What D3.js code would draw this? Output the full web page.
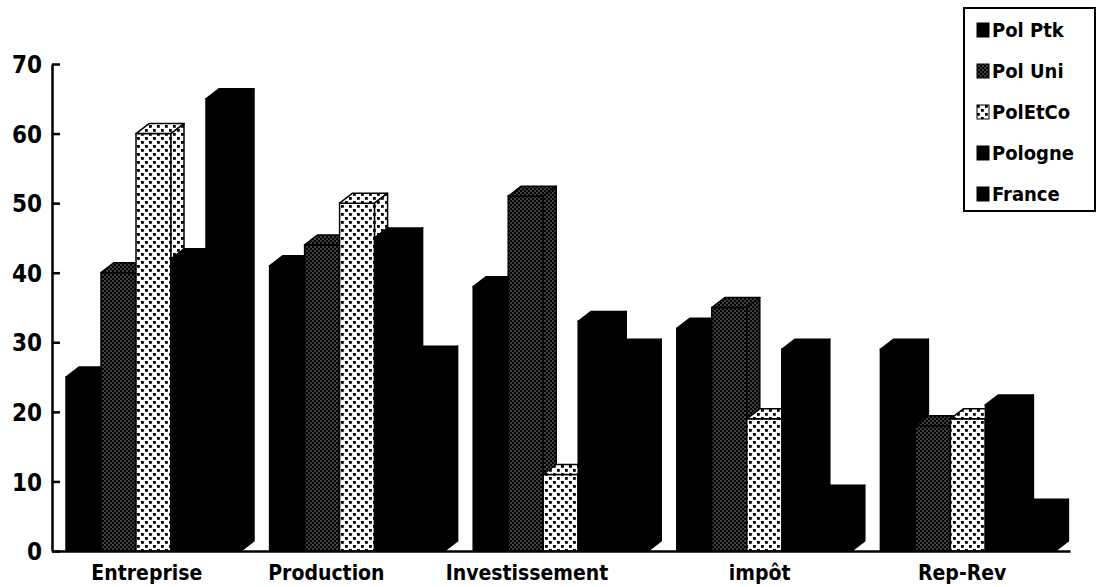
<!DOCTYPE html>
<html>
<head>
<meta charset="utf-8">
<script src="https://cdn.jsdelivr.net/npm/d3@7"></script>
<style>
  body { margin: 0; background: #fff; }
  text { font-family: "DejaVu Sans Condensed", "DejaVu Sans", sans-serif; font-weight: bold; fill: #000; }
</style>
</head>
<body>
<div id="chart"></div>
<script>
// data
let categories = ['Entreprise', 'Production', 'Investissement', 'impôt', 'Rep-Rev'];
let seriesNames = ['Pol Ptk', 'Pol Uni', 'PolEtCo', 'Pologne', 'France'];
let polPtk  = [25, 41, 38, 32, 29];
let polUni  = [40, 44, 51, 35, 18];
let polEtCo = [60, 50, 11, 19, 19];
let pologne = [42, 45, 33, 29, 21];
let france  = [65, 28, 29, 8, 6];
let yTicks = [0, 10, 20, 30, 40, 50, 60, 70];

let seriesValues = [polPtk, polUni, polEtCo, pologne, france];
let seriesFill = ['#000', 'url(#dense)', 'url(#sparse)', '#000', '#000'];

// layout
let svgWidth = 1098;
let svgHeight = 587;
let axisX = 52;
let baseY = 551;
let barW = 35;   // front face width
let depthX = 13; // 3d depth
let depthY = 10;
let groupOffset = 14;
let labelShift = [-7, -31, -34, -5, -6];

let svg = d3.select('#chart')
  .append('svg')
  .attr('width', svgWidth)
  .attr('height', svgHeight);

// fill patterns
let defs = svg.append('defs');
let dense = defs.append('pattern')
  .attr('id', 'dense')
  .attr('patternUnits', 'userSpaceOnUse')
  .attr('width', 4).attr('height', 4);
dense.append('rect').attr('width', 4).attr('height', 4).attr('fill', '#000');
dense.append('rect').attr('x', 0.5).attr('y', 0.5).attr('width', 1).attr('height', 1).attr('fill', '#fff');
dense.append('rect').attr('x', 2.5).attr('y', 2.5).attr('width', 1).attr('height', 1).attr('fill', '#fff');

let sparse = defs.append('pattern')
  .attr('id', 'sparse')
  .attr('patternUnits', 'userSpaceOnUse')
  .attr('width', 8).attr('height', 8);
sparse.append('rect').attr('width', 8).attr('height', 8).attr('fill', '#fff');
sparse.append('rect').attr('x', 1).attr('y', 1).attr('width', 2.8).attr('height', 2.8).attr('fill', '#000');
sparse.append('rect').attr('x', 5).attr('y', 5).attr('width', 2.8).attr('height', 2.8).attr('fill', '#000');

// scales
let x = d3.scaleBand()
  .domain(categories)
  .range([axisX, 1070])
  .padding(0);

let y = d3.scaleLinear()
  .domain([0, 70])
  .range([baseY, 64]);

// bars, series in order so later fronts cover earlier sides
let barsGroup = svg.append('g');
categories.forEach((cat, ci) => {
  let g = barsGroup.append('g');
  seriesValues.forEach((vals, si) => {
    let x0 = x(cat) + groupOffset + si * barW;
    let yt = y(vals[ci]);
    let fill = seriesFill[si];
    g.append('rect')
      .attr('x', x0).attr('y', yt)
      .attr('width', barW).attr('height', baseY - yt)
      .attr('fill', fill).attr('stroke', '#000').attr('stroke-width', 1.5);
    // top face
    g.append('path')
      .attr('d', `M${x0},${yt} L${x0 + depthX},${yt - depthY} L${x0 + barW + depthX},${yt - depthY} L${x0 + barW},${yt} Z`)
      .attr('fill', fill).attr('stroke', '#000').attr('stroke-width', 1.5)
      .attr('stroke-linejoin', 'round');
    // side face
    g.append('path')
      .attr('d', `M${x0 + barW},${yt} L${x0 + barW + depthX},${yt - depthY} L${x0 + barW + depthX},${baseY - depthY} L${x0 + barW},${baseY} Z`)
      .attr('fill', fill).attr('stroke', '#000').attr('stroke-width', 1.5)
      .attr('stroke-linejoin', 'round');
  });
});

// y axis
let leftAxis = d3.axisLeft(y)
  .tickValues(yTicks)
  .tickSizeInner(-8)
  .tickSizeOuter(0)
  .tickPadding(10);

let yAxis = svg.append('g')
  .attr('transform', `translate(${axisX},0)`)
  .call(leftAxis);
yAxis.select('.domain').attr('stroke', '#000').attr('stroke-width', 2.5);
yAxis.selectAll('.tick line').attr('stroke', '#000').attr('stroke-width', 2.5);
yAxis.selectAll('.tick text')
  .style('font-size', '24px')
  .attr('dy', '0.36em');

// x axis
let bottomAxis = d3.axisBottom(x)
  .tickSize(0)
  .tickSizeOuter(0);

let xAxis = svg.append('g')
  .attr('transform', `translate(0,${baseY})`)
  .call(bottomAxis);
xAxis.select('.domain').attr('stroke', '#000').attr('stroke-width', 2.5);
xAxis.selectAll('.tick text')
  .style('font-size', '21px')
  .attr('y', 29)
  .attr('dy', 0)
  .attr('dx', (d, i) => labelShift[i]);

// legend
let legend = svg.append('g');
legend.append('rect')
  .attr('x', 964).attr('y', 8)
  .attr('width', 131).attr('height', 203)
  .attr('fill', '#fff').attr('stroke', '#000').attr('stroke-width', 2);

let legendRows = legend.selectAll('.row')
  .data(seriesNames)
  .enter()
  .append('g')
  .attr('transform', (d, i) => `translate(0,${30 + i * 41})`);

legendRows.append('rect')
  .attr('x', 977).attr('y', -7)
  .attr('width', 12).attr('height', 14)
  .attr('fill', (d, i) => seriesFill[i])
  .attr('stroke', '#000').attr('stroke-width', 1);

legendRows.append('text')
  .attr('x', 992).attr('y', 7)
  .style('font-size', '20px')
  .text(d => d);
</script>
</body>
</html>
